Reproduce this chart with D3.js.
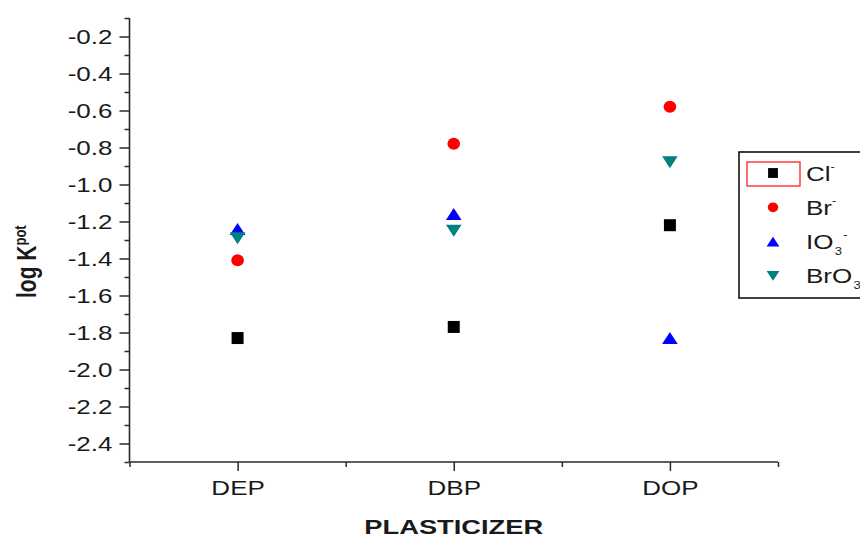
<!DOCTYPE html>
<html>
<head>
<meta charset="utf-8">
<script src="https://cdn.jsdelivr.net/npm/d3@7"></script>
<style>
  html, body { margin: 0; padding: 0; background: #fff; }
  svg { display: block; }
  text { font-family: "Liberation Sans", Arial, sans-serif; fill: #1a1a1a; }
</style>
</head>
<body>
<svg id="chart" width="860" height="536"></svg>
<script>
// ---------------- data ----------------
const categories = ["DEP", "DBP", "DOP"];
const seriesNames = ["Cl", "Br", "IO3", "BrO3"];
const clValues   = [-1.83, -1.77, -1.22];
const brValues   = [-1.41, -0.78, -0.58];
const io3Values  = [-1.24, -1.16, -1.83];
const bro3Values = [-1.29, -1.25, -0.88];
const yTickValues = [-0.2, -0.4, -0.6, -0.8, -1.0, -1.2, -1.4, -1.6, -1.8, -2.0, -2.2, -2.4];
const yMinorTickValues = [-0.1, -0.3, -0.5, -0.7, -0.9, -1.1, -1.3, -1.5, -1.7, -1.9, -2.1, -2.3, -2.5];
const xMinorTickValues = [0.5, 1.5, 2.5, 3.5];

// ---------------- layout / style ----------------
const STRETCH = 1.3;
const svg = d3.select("#chart");
const x = d3.scaleLinear().domain([0.5, 3.5]).range([129.5, 778]);
const y = d3.scaleLinear().domain([-0.1, -2.5]).range([18, 462]);
const axisColor = "#2a2a2a";

const series = [
  { key: "Cl",   values: clValues,   shape: "square",  color: "#000000" },
  { key: "Br",   values: brValues,   shape: "circle",  color: "#ff0000" },
  { key: "IO3",  values: io3Values,  shape: "up",      color: "#0000ff" },
  { key: "BrO3", values: bro3Values, shape: "down",    color: "#008080" }
];

function shapePath(shape, s) {
  s = s || 1;
  if (shape === "square") {
    const h = 6 * s;
    return `M${-h},${-h}H${h}V${h}H${-h}Z`;
  }
  if (shape === "circle") {
    const rx = 6.3 * s, ry = 6 * s;
    return `M${-rx},0A${rx},${ry} 0 1,0 ${rx},0A${rx},${ry} 0 1,0 ${-rx},0Z`;
  }
  const w = 7.8 * s, h = 6 * s;
  if (shape === "up") return `M0,${-h}L${w},${h}L${-w},${h}Z`;
  return `M0,${h}L${w},${-h}L${-w},${-h}Z`;
}

// ---------------- axes ----------------
const yAxis = d3.axisLeft(y).tickValues(yTickValues).tickSize(10).tickSizeOuter(0)
  .tickFormat(d => d.toFixed(1));
const gy = svg.append("g").attr("transform", `translate(${x.range()[0]},0)`).call(yAxis);
gy.select(".domain").attr("stroke", axisColor).attr("stroke-width", 1.6)
  .attr("d", `M0,${y.range()[0]}V${y.range()[1]}`);
gy.selectAll(".tick line").attr("stroke", axisColor).attr("stroke-width", 1.5);
gy.selectAll(".tick text")
  .attr("x", null).attr("dy", "0.36em")
  .attr("transform", `translate(-17,0) scale(${STRETCH},1)`)
  .style("font-size", "20px").style("font-family", "'Liberation Sans', Arial, sans-serif")
  .attr("fill", "#1a1a1a");

const yMinor = d3.axisLeft(y).tickValues(yMinorTickValues).tickSize(5).tickFormat("");
const gym = svg.append("g").attr("transform", `translate(${x.range()[0]},0)`).call(yMinor);
gym.select(".domain").remove();
gym.selectAll(".tick line").attr("stroke", axisColor).attr("stroke-width", 1.5);

const xAxis = d3.axisBottom(x).tickValues([1, 2, 3]).tickSize(9).tickSizeOuter(0)
  .tickFormat((d, i) => categories[i]);
const gx = svg.append("g").attr("transform", `translate(0,${y.range()[1]})`).call(xAxis);
gx.select(".domain").attr("stroke", axisColor).attr("stroke-width", 1.6)
  .attr("d", `M${x.range()[0]},0H${x.range()[1]}`);
gx.selectAll(".tick line").attr("stroke", axisColor).attr("stroke-width", 1.5);
gx.selectAll(".tick text")
  .attr("y", null).attr("dy", null)
  .attr("transform", `translate(0,33) scale(${STRETCH},1)`)
  .style("font-size", "20px").style("font-family", "'Liberation Sans', Arial, sans-serif")
  .attr("fill", "#1a1a1a");

const xMinor = d3.axisBottom(x).tickValues(xMinorTickValues).tickSize(5).tickFormat("");
const gxm = svg.append("g").attr("transform", `translate(0,${y.range()[1]})`).call(xMinor);
gxm.select(".domain").remove();
gxm.selectAll(".tick line").attr("stroke", axisColor).attr("stroke-width", 1.5);

// ---------------- titles ----------------
svg.append("text")
  .attr("transform", `translate(${(x.range()[0] + x.range()[1]) / 2},534) scale(${STRETCH},1)`)
  .attr("text-anchor", "middle")
  .style("font-size", "21px").style("font-weight", "bold")
  .attr("fill", "#000")
  .text("PLASTICIZER");

const yt = svg.append("text")
  .attr("transform", `translate(36,298) rotate(-90) scale(1,${STRETCH})`)
  .attr("text-anchor", "start")
  .style("font-size", "21px").style("font-weight", "bold")
  .attr("fill", "#000");
yt.append("tspan").text("log K");
yt.append("tspan").attr("dy", "-8").style("font-size", "13px").text("pot");

// ---------------- marks ----------------
series.forEach(s => {
  svg.append("g").selectAll("path")
    .data(s.values)
    .join("path")
    .attr("d", shapePath(s.shape))
    .attr("transform", (d, i) => `translate(${x(i + 1)},${y(d)})`)
    .attr("fill", s.color);
});

// ---------------- legend ----------------
const lg = svg.append("g");
lg.append("rect").attr("x", 739).attr("y", 152).attr("width", 200).attr("height", 146)
  .attr("fill", "#fff").attr("stroke", "#111").attr("stroke-width", 1.6);
lg.append("rect").attr("x", 747).attr("y", 162).attr("width", 53).attr("height", 24)
  .attr("fill", "none").attr("stroke", "#ff2020").attr("stroke-width", 1.3);

const legendLabels = [
  { base: "Cl", sub: null, sup: "-" },
  { base: "Br", sub: null, sup: "-" },
  { base: "IO", sub: "3", sup: "-" },
  { base: "BrO", sub: "3", sup: "-" }
];
series.forEach((s, i) => {
  const cy = 173 + i * 34.3;
  lg.append("path").attr("d", shapePath(s.shape, 0.82))
    .attr("transform", `translate(773,${cy})`).attr("fill", s.color);
  const lab = legendLabels[i];
  const t = lg.append("text")
    .attr("transform", `translate(806,${cy + 7.5}) scale(${STRETCH},1)`)
    .style("font-size", "20px").attr("fill", "#1a1a1a");
  t.append("tspan").text(lab.base);
  if (lab.sub) {
    t.append("tspan").attr("dx", "1").attr("dy", "6").style("font-size", "10px").text(lab.sub);
    t.append("tspan").attr("dx", "1").attr("dy", "-17").style("font-size", "10px").text(lab.sup);
  } else {
    t.append("tspan").attr("dy", "-11").style("font-size", "10px").text(lab.sup);
  }
});
</script>
</body>
</html>
